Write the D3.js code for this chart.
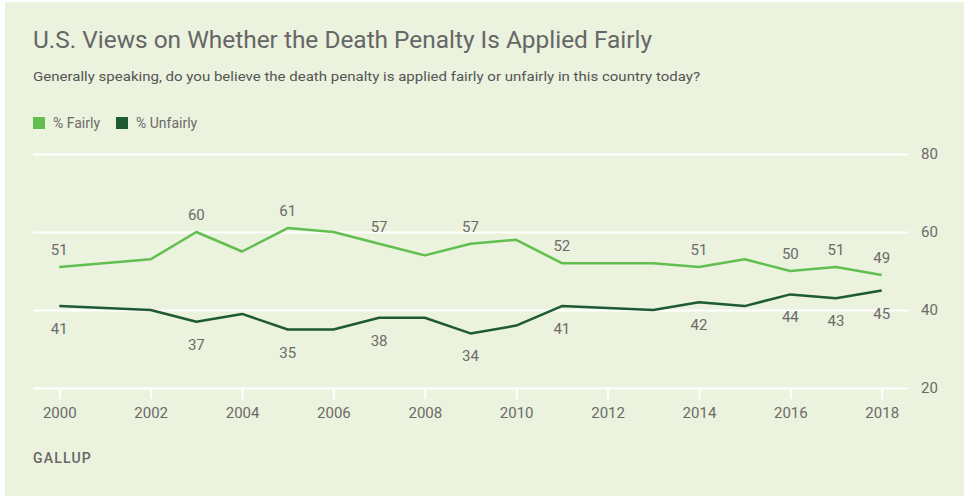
<!DOCTYPE html>
<html>
<head>
<meta charset="utf-8">
<script src="https://cdn.jsdelivr.net/npm/d3@7"></script>
<style>
  html, body { margin: 0; padding: 0; background: #ffffff; }
  svg { display: block; }
  text { font-family: "Roboto", "Liberation Sans", sans-serif; }
</style>
</head>
<body>
<svg id="chart" width="964" height="496"></svg>
<script>
// Gallup trend: is the death penalty applied fairly?
const years     = [2000, 2002, 2003, 2004, 2005, 2006, 2007, 2008, 2009, 2010, 2011, 2013, 2014, 2015, 2016, 2017, 2018];
const fairly    = [51,   53,   60,   55,   61,   60,   57,   54,   57,   58,   52,   52,   51,   53,   50,   51,   49];
const unfairly  = [41,   40,   37,   39,   35,   35,   38,   38,   34,   36,   41,   40,   42,   41,   44,   43,   45];
const labelYears = [2000, 2003, 2005, 2007, 2009, 2011, 2014, 2016, 2017, 2018];
const xTicks    = [2000, 2002, 2004, 2006, 2008, 2010, 2012, 2014, 2016, 2018];
const yTicks    = [20, 40, 60, 80];
const seriesNames = ["% Fairly", "% Unfairly"];

const colors = { fairly: "#62bf4f", unfairly: "#1e5a33" };
const textGrey = "#6b6b6b";

const svg = d3.select("#chart");

// panel background
svg.append("rect")
  .attr("x", 5).attr("y", 2)
  .attr("width", 959).attr("height", 494)
  .attr("fill", "#ebf2dd");

// heading
svg.append("text")
  .attr("x", 33).attr("y", 48)
  .attr("font-size", 23.5)
  .attr("fill", "#666666")
  .attr("textLength", 619)
  .attr("lengthAdjust", "spacingAndGlyphs")
  .text("U.S. Views on Whether the Death Penalty Is Applied Fairly");

svg.append("text")
  .attr("x", 33).attr("y", 80.5)
  .attr("font-size", 13)
  .attr("fill", "#555555")
  .attr("textLength", 667)
  .attr("lengthAdjust", "spacingAndGlyphs")
  .text("Generally speaking, do you believe the death penalty is applied fairly or unfairly in this country today?");

// legend
const legend = svg.append("g");
const legendX = [33, 116];
[colors.fairly, colors.unfairly].forEach((c, i) => {
  legend.append("rect")
    .attr("x", legendX[i]).attr("y", 117)
    .attr("width", 12).attr("height", 12)
    .attr("fill", c);
  legend.append("text")
    .attr("x", legendX[i] + 20).attr("y", 128)
    .attr("font-size", 14)
    .attr("fill", textGrey)
    .text(seriesNames[i]);
});

// scales
const x = d3.scaleLinear().domain([2000, 2018]).range([59.3, 881.7]);
const y = d3.scaleLinear().domain([20, 80]).range([388, 154]);

// horizontal gridlines with right-side labels
const yAxis = d3.axisRight(y)
  .tickValues(yTicks)
  .tickSize(908 - 33)
  .tickPadding(13)
  .tickFormat(d3.format("d"));
const gy = svg.append("g").attr("transform", "translate(33,0)").call(yAxis);
gy.select(".domain").remove();
gy.selectAll(".tick line").attr("stroke", "#ffffff").attr("stroke-width", 2);
gy.selectAll(".tick text")
  .attr("fill", textGrey)
  .attr("font-size", 15)
  .attr("font-family", "Roboto, sans-serif");

// bottom year axis
const xAxis = d3.axisBottom(x)
  .tickValues(xTicks)
  .tickSize(11)
  .tickPadding(8)
  .tickFormat(d3.format("d"));
const gx = svg.append("g").attr("transform", `translate(0,${y(20)})`).call(xAxis);
gx.select(".domain").remove();
gx.selectAll(".tick line").attr("stroke", "#ffffff").attr("stroke-width", 2);
gx.selectAll(".tick text")
  .attr("fill", textGrey)
  .attr("font-size", 15)
  .attr("font-family", "Roboto, sans-serif");

// lines
const line = d3.line()
  .x(d => x(d.year))
  .y(d => y(d.value));

const fairData = years.map((yr, i) => ({ year: yr, value: fairly[i] }));
const unfairData = years.map((yr, i) => ({ year: yr, value: unfairly[i] }));

svg.append("path")
  .datum(unfairData)
  .attr("d", line)
  .attr("fill", "none")
  .attr("stroke", colors.unfairly)
  .attr("stroke-width", 2.5)
  .attr("stroke-linejoin", "round");

svg.append("path")
  .datum(fairData)
  .attr("d", line)
  .attr("fill", "none")
  .attr("stroke", colors.fairly)
  .attr("stroke-width", 2.5)
  .attr("stroke-linejoin", "round");

// value labels: fairly above, unfairly below
svg.append("g").selectAll("text")
  .data(fairData.filter(d => labelYears.includes(d.year)))
  .join("text")
  .attr("x", d => x(d.year))
  .attr("y", d => y(d.value) - 12)
  .attr("text-anchor", "middle")
  .attr("font-size", 15)
  .attr("fill", textGrey)
  .text(d => d.value);

svg.append("g").selectAll("text")
  .data(unfairData.filter(d => labelYears.includes(d.year)))
  .join("text")
  .attr("x", d => x(d.year))
  .attr("y", d => y(d.value) + 28)
  .attr("text-anchor", "middle")
  .attr("font-size", 15)
  .attr("fill", textGrey)
  .text(d => d.value);

// source
svg.append("text")
  .attr("x", 33).attr("y", 463)
  .attr("font-size", 14)
  .attr("font-weight", 500)
  .attr("fill", "#666666")
  .attr("letter-spacing", 1.2)
  .text("GALLUP");
</script>
</body>
</html>
